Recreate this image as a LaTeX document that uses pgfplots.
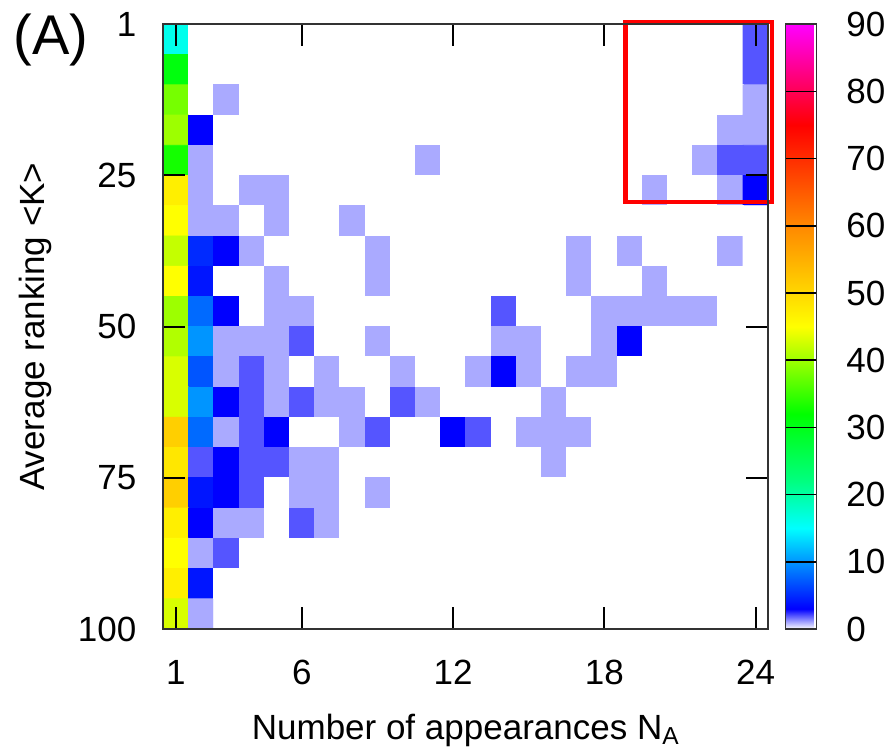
\documentclass[border=0pt]{standalone}
\usepackage{fontspec}
\setmainfont{Liberation Sans}
\usepackage{pgfplots}
\pgfplotsset{compat=1.18}
\begin{document}
\begin{tikzpicture}
\begin{axis}[
  name=ax,
  scale only axis,
  width=302.5pt, height=302.35pt,
  xmin=0.5, xmax=24.5,
  ymin=0, ymax=100,
  y dir=reverse,
  xtick={1,6,12,18,24},
  ytick={0,25,50,75,100},
  yticklabels={1,25,50,75,100},
  tick align=inside,
  major tick length=11pt,
  axis on top,
  axis line style={black!80, line width=1pt},
  tick style={black, line width=1pt},
  /pgf/number format/assume math mode=true,
  tick label style={font=\fontsize{17.5}{20}\selectfont},
  xticklabel style={yshift=-12pt},
  yticklabel style={xshift=-10pt},
  label style={font=\fontsize{17.5}{20}\selectfont},
  xlabel={Number of appearances N\textsubscript{A}},
  ylabel={Average ranking <K>},
  xlabel style={at={(axis description cs:0.5,-0.167)}, anchor=center},
  ylabel style={at={(axis description cs:-0.212,0.5)}, anchor=center},
  clip=false,
  colormap={gp}{rgb255(0pt)=(255,255,255); rgb255(3pt)=(0,0,255); rgb255(15pt)=(0,255,255); rgb255(22pt)=(0,255,128); rgb255(32pt)=(0,255,0); rgb255(45pt)=(255,255,0); rgb255(60pt)=(255,136,0); rgb255(75pt)=(255,0,0); rgb255(90pt)=(255,0,255)},
  point meta min=0, point meta max=90,
  colorbar,
  colorbar style={
    at={(parent axis.north east)}, anchor=north west, xshift=0pt,
    width=15.5pt,
    ytick={0,10,...,90},
    ymajorgrids, major grid style={black, line width=0.8pt},
    major tick length=0pt,
    axis line style={black!80, line width=0.8pt},
    /pgf/number format/assume math mode=true,
    yticklabel style={font=\fontsize{17.5}{20}\selectfont, xshift=11.5pt},
  },
]
\addplot[matrix plot*, mesh/cols=24, point meta=explicit] coordinates {
(1,2.5)[16] (2,2.5)[0] (3,2.5)[0] (4,2.5)[0] (5,2.5)[0] (6,2.5)[0] (7,2.5)[0] (8,2.5)[0] (9,2.5)[0] (10,2.5)[0] (11,2.5)[0] (12,2.5)[0] (13,2.5)[0] (14,2.5)[0] (15,2.5)[0] (16,2.5)[0] (17,2.5)[0] (18,2.5)[0] (19,2.5)[0] (20,2.5)[0] (21,2.5)[0] (22,2.5)[0] (23,2.5)[0] (24,2.5)[2]

(1,7.5)[31] (2,7.5)[0] (3,7.5)[0] (4,7.5)[0] (5,7.5)[0] (6,7.5)[0] (7,7.5)[0] (8,7.5)[0] (9,7.5)[0] (10,7.5)[0] (11,7.5)[0] (12,7.5)[0] (13,7.5)[0] (14,7.5)[0] (15,7.5)[0] (16,7.5)[0] (17,7.5)[0] (18,7.5)[0] (19,7.5)[0] (20,7.5)[0] (21,7.5)[0] (22,7.5)[0] (23,7.5)[0] (24,7.5)[2]

(1,12.5)[38] (2,12.5)[0] (3,12.5)[1] (4,12.5)[0] (5,12.5)[0] (6,12.5)[0] (7,12.5)[0] (8,12.5)[0] (9,12.5)[0] (10,12.5)[0] (11,12.5)[0] (12,12.5)[0] (13,12.5)[0] (14,12.5)[0] (15,12.5)[0] (16,12.5)[0] (17,12.5)[0] (18,12.5)[0] (19,12.5)[0] (20,12.5)[0] (21,12.5)[0] (22,12.5)[0] (23,12.5)[0] (24,12.5)[1]

(1,17.5)[40] (2,17.5)[3] (3,17.5)[0] (4,17.5)[0] (5,17.5)[0] (6,17.5)[0] (7,17.5)[0] (8,17.5)[0] (9,17.5)[0] (10,17.5)[0] (11,17.5)[0] (12,17.5)[0] (13,17.5)[0] (14,17.5)[0] (15,17.5)[0] (16,17.5)[0] (17,17.5)[0] (18,17.5)[0] (19,17.5)[0] (20,17.5)[0] (21,17.5)[0] (22,17.5)[0] (23,17.5)[1] (24,17.5)[1]

(1,22.5)[33] (2,22.5)[1] (3,22.5)[0] (4,22.5)[0] (5,22.5)[0] (6,22.5)[0] (7,22.5)[0] (8,22.5)[0] (9,22.5)[0] (10,22.5)[0] (11,22.5)[1] (12,22.5)[0] (13,22.5)[0] (14,22.5)[0] (15,22.5)[0] (16,22.5)[0] (17,22.5)[0] (18,22.5)[0] (19,22.5)[0] (20,22.5)[0] (21,22.5)[0] (22,22.5)[1] (23,22.5)[2] (24,22.5)[2]

(1,27.5)[47] (2,27.5)[1] (3,27.5)[0] (4,27.5)[1] (5,27.5)[1] (6,27.5)[0] (7,27.5)[0] (8,27.5)[0] (9,27.5)[0] (10,27.5)[0] (11,27.5)[0] (12,27.5)[0] (13,27.5)[0] (14,27.5)[0] (15,27.5)[0] (16,27.5)[0] (17,27.5)[0] (18,27.5)[0] (19,27.5)[0] (20,27.5)[1] (21,27.5)[0] (22,27.5)[0] (23,27.5)[1] (24,27.5)[3]

(1,32.5)[45] (2,32.5)[1] (3,32.5)[1] (4,32.5)[0] (5,32.5)[1] (6,32.5)[0] (7,32.5)[0] (8,32.5)[1] (9,32.5)[0] (10,32.5)[0] (11,32.5)[0] (12,32.5)[0] (13,32.5)[0] (14,32.5)[0] (15,32.5)[0] (16,32.5)[0] (17,32.5)[0] (18,32.5)[0] (19,32.5)[0] (20,32.5)[0] (21,32.5)[0] (22,32.5)[0] (23,32.5)[0] (24,32.5)[0]

(1,37.5)[42] (2,37.5)[5] (3,37.5)[3] (4,37.5)[1] (5,37.5)[0] (6,37.5)[0] (7,37.5)[0] (8,37.5)[0] (9,37.5)[1] (10,37.5)[0] (11,37.5)[0] (12,37.5)[0] (13,37.5)[0] (14,37.5)[0] (15,37.5)[0] (16,37.5)[0] (17,37.5)[1] (18,37.5)[0] (19,37.5)[1] (20,37.5)[0] (21,37.5)[0] (22,37.5)[0] (23,37.5)[1] (24,37.5)[0]

(1,42.5)[45] (2,42.5)[4] (3,42.5)[0] (4,42.5)[0] (5,42.5)[1] (6,42.5)[0] (7,42.5)[0] (8,42.5)[0] (9,42.5)[1] (10,42.5)[0] (11,42.5)[0] (12,42.5)[0] (13,42.5)[0] (14,42.5)[0] (15,42.5)[0] (16,42.5)[0] (17,42.5)[1] (18,42.5)[0] (19,42.5)[0] (20,42.5)[1] (21,42.5)[0] (22,42.5)[0] (23,42.5)[0] (24,42.5)[0]

(1,47.5)[40] (2,47.5)[8] (3,47.5)[3] (4,47.5)[0] (5,47.5)[1] (6,47.5)[1] (7,47.5)[0] (8,47.5)[0] (9,47.5)[0] (10,47.5)[0] (11,47.5)[0] (12,47.5)[0] (13,47.5)[0] (14,47.5)[2] (15,47.5)[0] (16,47.5)[0] (17,47.5)[0] (18,47.5)[1] (19,47.5)[1] (20,47.5)[1] (21,47.5)[1] (22,47.5)[1] (23,47.5)[0] (24,47.5)[0]

(1,52.5)[41] (2,52.5)[10] (3,52.5)[1] (4,52.5)[1] (5,52.5)[1] (6,52.5)[2] (7,52.5)[0] (8,52.5)[0] (9,52.5)[1] (10,52.5)[0] (11,52.5)[0] (12,52.5)[0] (13,52.5)[0] (14,52.5)[1] (15,52.5)[1] (16,52.5)[0] (17,52.5)[0] (18,52.5)[1] (19,52.5)[3] (20,52.5)[0] (21,52.5)[0] (22,52.5)[0] (23,52.5)[0] (24,52.5)[0]

(1,57.5)[43] (2,57.5)[7] (3,57.5)[1] (4,57.5)[2] (5,57.5)[1] (6,57.5)[0] (7,57.5)[1] (8,57.5)[0] (9,57.5)[0] (10,57.5)[1] (11,57.5)[0] (12,57.5)[0] (13,57.5)[1] (14,57.5)[3] (15,57.5)[1] (16,57.5)[0] (17,57.5)[1] (18,57.5)[1] (19,57.5)[0] (20,57.5)[0] (21,57.5)[0] (22,57.5)[0] (23,57.5)[0] (24,57.5)[0]

(1,62.5)[43] (2,62.5)[10] (3,62.5)[3] (4,62.5)[2] (5,62.5)[1] (6,62.5)[2] (7,62.5)[1] (8,62.5)[1] (9,62.5)[0] (10,62.5)[2] (11,62.5)[1] (12,62.5)[0] (13,62.5)[0] (14,62.5)[0] (15,62.5)[0] (16,62.5)[1] (17,62.5)[0] (18,62.5)[0] (19,62.5)[0] (20,62.5)[0] (21,62.5)[0] (22,62.5)[0] (23,62.5)[0] (24,62.5)[0]

(1,67.5)[51] (2,67.5)[8] (3,67.5)[1] (4,67.5)[2] (5,67.5)[3] (6,67.5)[0] (7,67.5)[0] (8,67.5)[1] (9,67.5)[2] (10,67.5)[0] (11,67.5)[0] (12,67.5)[3] (13,67.5)[2] (14,67.5)[0] (15,67.5)[1] (16,67.5)[1] (17,67.5)[1] (18,67.5)[0] (19,67.5)[0] (20,67.5)[0] (21,67.5)[0] (22,67.5)[0] (23,67.5)[0] (24,67.5)[0]

(1,72.5)[48] (2,72.5)[2] (3,72.5)[3] (4,72.5)[2] (5,72.5)[2] (6,72.5)[1] (7,72.5)[1] (8,72.5)[0] (9,72.5)[0] (10,72.5)[0] (11,72.5)[0] (12,72.5)[0] (13,72.5)[0] (14,72.5)[0] (15,72.5)[0] (16,72.5)[1] (17,72.5)[0] (18,72.5)[0] (19,72.5)[0] (20,72.5)[0] (21,72.5)[0] (22,72.5)[0] (23,72.5)[0] (24,72.5)[0]

(1,77.5)[51] (2,77.5)[4] (3,77.5)[3] (4,77.5)[2] (5,77.5)[0] (6,77.5)[1] (7,77.5)[1] (8,77.5)[0] (9,77.5)[1] (10,77.5)[0] (11,77.5)[0] (12,77.5)[0] (13,77.5)[0] (14,77.5)[0] (15,77.5)[0] (16,77.5)[0] (17,77.5)[0] (18,77.5)[0] (19,77.5)[0] (20,77.5)[0] (21,77.5)[0] (22,77.5)[0] (23,77.5)[0] (24,77.5)[0]

(1,82.5)[47] (2,82.5)[3] (3,82.5)[1] (4,82.5)[1] (5,82.5)[0] (6,82.5)[2] (7,82.5)[1] (8,82.5)[0] (9,82.5)[0] (10,82.5)[0] (11,82.5)[0] (12,82.5)[0] (13,82.5)[0] (14,82.5)[0] (15,82.5)[0] (16,82.5)[0] (17,82.5)[0] (18,82.5)[0] (19,82.5)[0] (20,82.5)[0] (21,82.5)[0] (22,82.5)[0] (23,82.5)[0] (24,82.5)[0]

(1,87.5)[45] (2,87.5)[1] (3,87.5)[2] (4,87.5)[0] (5,87.5)[0] (6,87.5)[0] (7,87.5)[0] (8,87.5)[0] (9,87.5)[0] (10,87.5)[0] (11,87.5)[0] (12,87.5)[0] (13,87.5)[0] (14,87.5)[0] (15,87.5)[0] (16,87.5)[0] (17,87.5)[0] (18,87.5)[0] (19,87.5)[0] (20,87.5)[0] (21,87.5)[0] (22,87.5)[0] (23,87.5)[0] (24,87.5)[0]

(1,92.5)[47] (2,92.5)[4] (3,92.5)[0] (4,92.5)[0] (5,92.5)[0] (6,92.5)[0] (7,92.5)[0] (8,92.5)[0] (9,92.5)[0] (10,92.5)[0] (11,92.5)[0] (12,92.5)[0] (13,92.5)[0] (14,92.5)[0] (15,92.5)[0] (16,92.5)[0] (17,92.5)[0] (18,92.5)[0] (19,92.5)[0] (20,92.5)[0] (21,92.5)[0] (22,92.5)[0] (23,92.5)[0] (24,92.5)[0]

(1,97.5)[43] (2,97.5)[1] (3,97.5)[0] (4,97.5)[0] (5,97.5)[0] (6,97.5)[0] (7,97.5)[0] (8,97.5)[0] (9,97.5)[0] (10,97.5)[0] (11,97.5)[0] (12,97.5)[0] (13,97.5)[0] (14,97.5)[0] (15,97.5)[0] (16,97.5)[0] (17,97.5)[0] (18,97.5)[0] (19,97.5)[0] (20,97.5)[0] (21,97.5)[0] (22,97.5)[0] (23,97.5)[0] (24,97.5)[0]
};
\draw[red, line width=2.2pt] (axis cs:18.83,-0.38) rectangle (axis cs:24.65,29.4);
\node[font=\fontsize{28}{32}\selectfont, anchor=center] at (axis description cs:-0.186,0.974) {(A)};
\end{axis}
\pgfresetboundingbox
\path[use as bounding box] (ax.south west) ++(-81.65pt,-61pt) rectangle ++(444.5pt,375.5pt);
\end{tikzpicture}
\end{document}
